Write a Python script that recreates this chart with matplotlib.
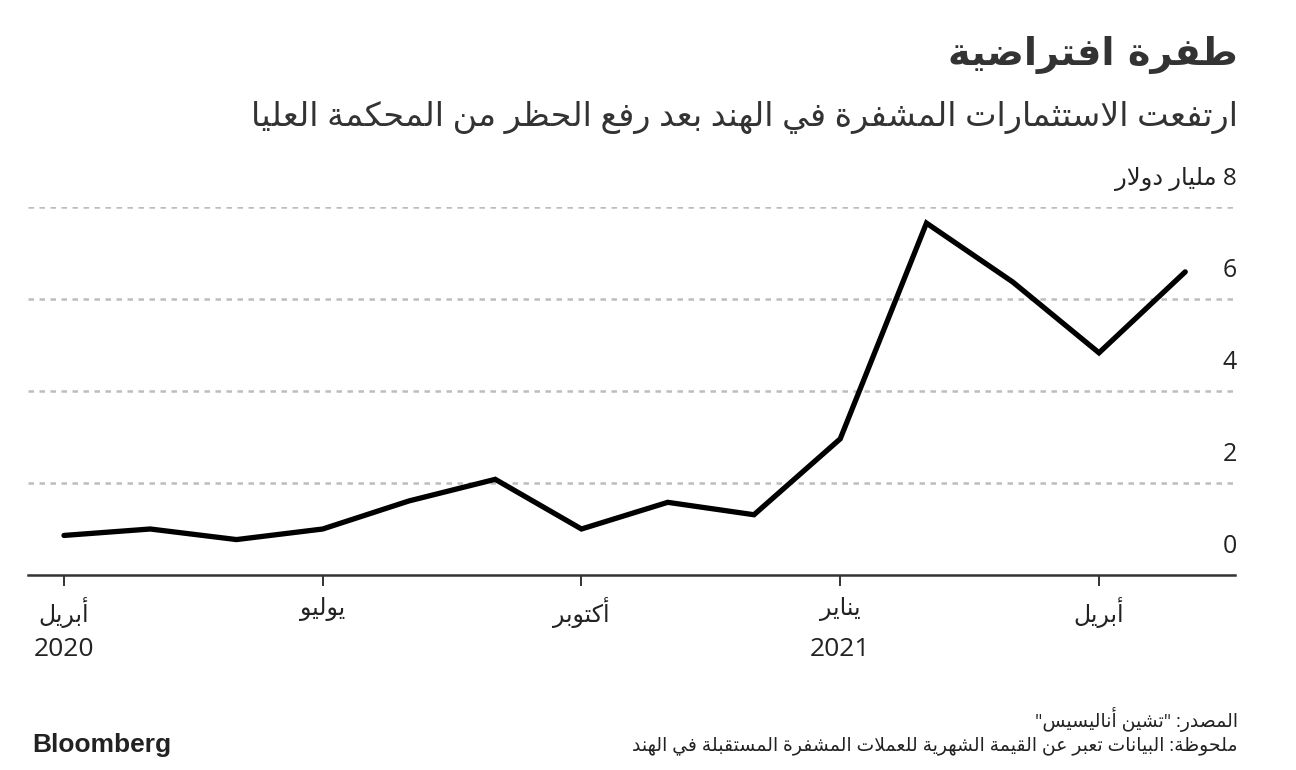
import re
import matplotlib
matplotlib.use("Agg")
import matplotlib.pyplot as plt

# ---------------- data ----------------
months = list(range(14))  # April 2020 .. May 2021 (monthly)
values = [0.86, 1.0, 0.77, 1.0, 1.61, 2.08, 1.0, 1.58, 1.31, 2.96, 7.65, 6.37, 4.83, 6.59]
xtick_pos = [0, 3, 6, 9, 12]
xtick_labels = ["أبريل", "يوليو", "أكتوبر", "يناير", "أبريل"]
year_pos = [0, 9]
year_labels = ["2020", "2021"]
ytick_vals = [0, 2, 4, 6]
unit_label = "8 مليار دولار"
title = "طفرة افتراضية"
subtitle = "ارتفعت الاستثمارات المشفرة في الهند بعد رفع الحظر من المحكمة العليا"
source = 'المصدر: "تشين أناليسيس"'
note = "ملحوظة: البيانات تعبر عن القيمة الشهرية للعملات المشفرة المستقبلة في الهند"

# ---------------- minimal Arabic shaping + visual ordering ----------------
_TABLE = [
    ("ء", 0xFE80, 1), ("آ", 0xFE81, 2), ("أ", 0xFE83, 2), ("ؤ", 0xFE85, 2),
    ("إ", 0xFE87, 2), ("ئ", 0xFE89, 4), ("ا", 0xFE8D, 2), ("ب", 0xFE8F, 4),
    ("ة", 0xFE93, 2), ("ت", 0xFE95, 4), ("ث", 0xFE99, 4), ("ج", 0xFE9D, 4),
    ("ح", 0xFEA1, 4), ("خ", 0xFEA5, 4), ("د", 0xFEA9, 2), ("ذ", 0xFEAB, 2),
    ("ر", 0xFEAD, 2), ("ز", 0xFEAF, 2), ("س", 0xFEB1, 4), ("ش", 0xFEB5, 4),
    ("ص", 0xFEB9, 4), ("ض", 0xFEBD, 4), ("ط", 0xFEC1, 4), ("ظ", 0xFEC5, 4),
    ("ع", 0xFEC9, 4), ("غ", 0xFECD, 4), ("ف", 0xFED1, 4), ("ق", 0xFED5, 4),
    ("ك", 0xFED9, 4), ("ل", 0xFEDD, 4), ("م", 0xFEE1, 4), ("ن", 0xFEE5, 4),
    ("ه", 0xFEE9, 4), ("و", 0xFEED, 2), ("ى", 0xFEEF, 2), ("ي", 0xFEF1, 4),
]
FORMS = {c: [s + k for k in range(n)] for c, s, n in _TABLE}
LAMALEF = {"آ": (0xFEF5, 0xFEF6), "أ": (0xFEF7, 0xFEF8),
           "إ": (0xFEF9, 0xFEFA), "ا": (0xFEFB, 0xFEFC)}


def _joins(ch):
    return ch in FORMS and len(FORMS[ch]) > 1


def _dual(ch):
    return ch in FORMS and len(FORMS[ch]) == 4


def shape_line(s):
    out = []
    i, n = 0, len(s)
    while i < n:
        c = s[i]
        if c not in FORMS:
            out.append(c)
            i += 1
            continue
        prev = s[i - 1] if i > 0 else None
        cp = prev is not None and _dual(prev) and _joins(c)
        if c == "ل" and i + 1 < n and s[i + 1] in LAMALEF:
            lig = LAMALEF[s[i + 1]]
            out.append(chr(lig[1] if cp else lig[0]))
            i += 2
            continue
        nxt = s[i + 1] if i + 1 < n else None
        cn = _dual(c) and nxt is not None and _joins(nxt)
        f = FORMS[c]
        if cp and cn:
            g = f[3]
        elif cp:
            g = f[1]
        elif cn:
            g = f[2]
        else:
            g = f[0]
        out.append(chr(g))
        i += 1
    vis = "".join(out)[::-1]
    vis = re.sub(r"[0-9A-Za-z.]+", lambda m: m.group(0)[::-1], vis)
    return vis


def ar(s):
    return "\n".join(shape_line(line) for line in s.split("\n"))


# ---------------- figure ----------------
W, H = 1296, 770
fig = plt.figure(figsize=(W / 100, H / 100), dpi=100)
fig.patch.set_facecolor("white")

FAM = ["Open Sans", "DejaVu Sans"]
TXT = "#222222"

ax = fig.add_axes([28 / W, (H - 575) / H, 1207 / W, 368 / H])
ax.set_xlim(-0.417, 13.577)
ax.set_ylim(0, 8)

# gridlines
for v in [2, 4, 6, 8]:
    ax.axhline(v, color="#bdbdbd", lw=1.8, ls=(0, (2.2, 2.2)), zorder=1)

ax.plot(months, values, color="black", lw=3.8, solid_joinstyle="miter",
        solid_capstyle="round", zorder=3)

for s in ["top", "right", "left"]:
    ax.spines[s].set_visible(False)
ax.spines["bottom"].set_color("#333333")
ax.spines["bottom"].set_linewidth(1.8)
ax.set_yticks([])
ax.set_xticks(xtick_pos)
ax.set_xticklabels([ar(t) for t in xtick_labels], family=FAM, fontsize=17,
                   color=TXT, va="top")
ax.tick_params(axis="x", length=8, width=1.4, color="#333333", pad=8)
ax.patch.set_visible(False)

xtr = ax.get_xaxis_transform()
for p, lab in zip(year_pos, year_labels):
    ax.text(p, -75 / 368, lab, transform=xtr, ha="center", va="center",
            family=FAM, fontsize=19, color=TXT)

# y labels (right side, above the gridlines)
ytr = ax.get_yaxis_transform()
for v in ytick_vals:
    ax.text(1.0015, v + 0.62, str(v), transform=ytr, ha="right", va="center",
            family=FAM, fontsize=18, color=TXT)
ax.text(1.0015, 8 + 0.6, ar(unit_label), transform=ytr, ha="right", va="center",
        family=FAM, fontsize=17.5, color=TXT)

# title & subtitle
fig.text(1238 / W, 1 - 55 / H, ar(title), ha="right", va="center",
         family=["DejaVu Sans"], fontweight="bold", fontsize=27.5, color="#333333")
fig.text(1238 / W, 1 - 118 / H, ar(subtitle), ha="right", va="center",
         family=FAM, fontsize=24, color="#333333")

# footer
fig.text(1238 / W, 1 - 720 / H, ar(source), ha="right", va="center",
         family=FAM, fontsize=13.5, color=TXT)
fig.text(1238 / W, 1 - 746 / H, ar(note), ha="right", va="center",
         family=FAM, fontsize=13.5, color=TXT)
fig.text(32 / W, 1 - 745 / H, "Bloomberg", ha="left", va="center",
         family=["Liberation Sans"], fontweight="bold", fontsize=19,
         color="#222222")

fig.savefig("out.png", dpi=100, facecolor="white")
